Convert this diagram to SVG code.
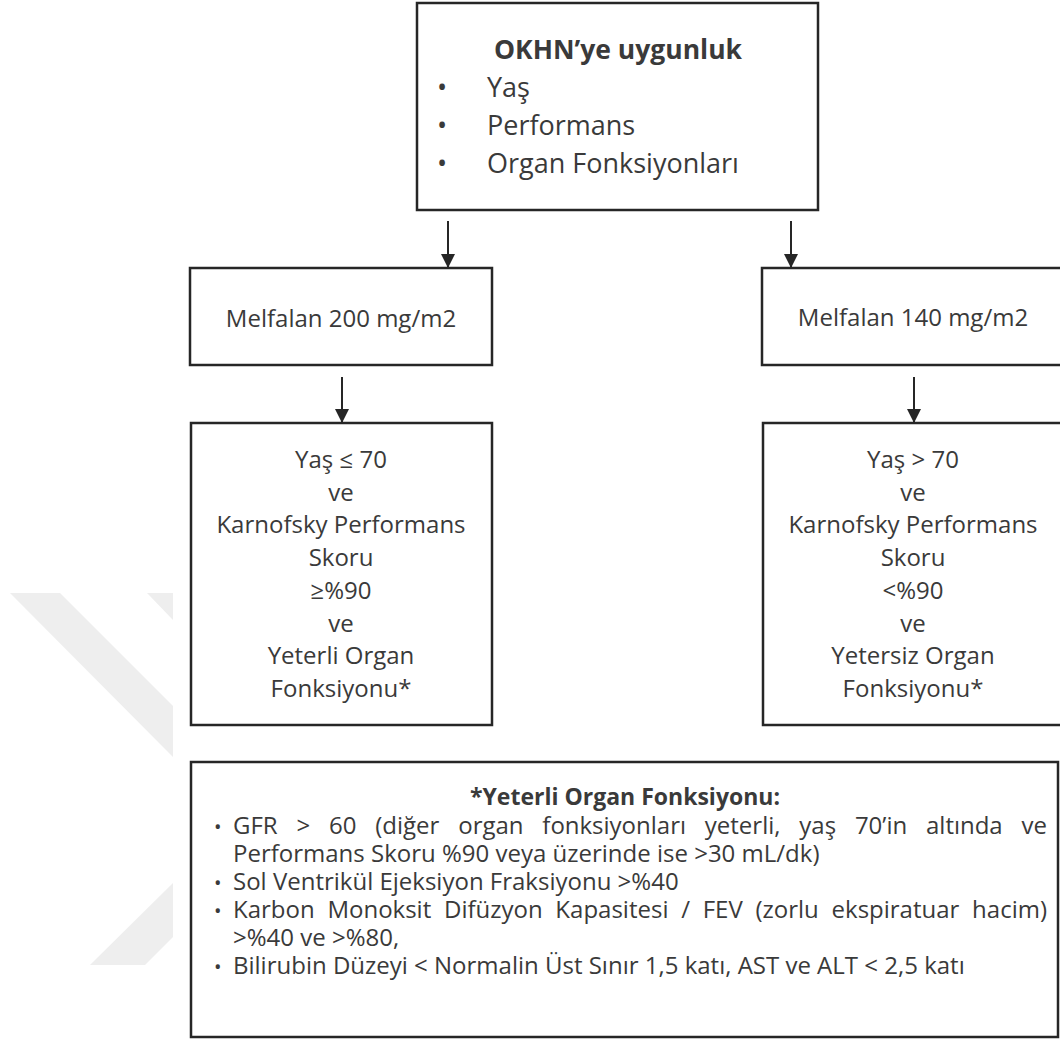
<svg xmlns="http://www.w3.org/2000/svg" width="1060" height="1043" viewBox="0 0 1060 1043">
<defs>
<style>
.box{fill:#ffffff;stroke:#262626;stroke-width:2.5}
.t{font-family:"Open Sans","Noto Sans","Liberation Sans",sans-serif;font-size:24px;fill:#3a3a3a}
.tt{font-family:"Open Sans","Noto Sans","Liberation Sans",sans-serif;font-size:27px;fill:#3a3a3a}
.c{text-anchor:middle}
.b{font-weight:bold}
.f{font-family:"Open Sans","Noto Sans","Liberation Sans",sans-serif;font-size:24px;fill:#3a3a3a}
.bul{font-family:"Open Sans","Noto Sans","Liberation Sans",sans-serif;font-size:20px;fill:#3a3a3a}
.wm{fill:#eeeeee}
.conn{stroke:#262626;stroke-width:2;fill:none}
</style>
<marker id="ah" viewBox="0 0 12 12" refX="12" refY="6" markerWidth="14" markerHeight="14" markerUnits="userSpaceOnUse" orient="auto">
<path d="M0,0 L12,6 L0,12 z" fill="#262626"/>
</marker>
</defs>
<rect width="1060" height="1043" fill="#ffffff"/>
<g id="watermark">
<polygon class="wm" points="10,593 60,593 173,706 173,757"/>
<polygon class="wm" points="147,593 173,593 173,620"/>
<polygon class="wm" points="173,883 90,965 145,965 173,937"/>
</g>
<g id="connectors">
<line class="conn" x1="448" y1="221" x2="448" y2="268" marker-end="url(#ah)"/>
<line class="conn" x1="791" y1="221" x2="791" y2="268" marker-end="url(#ah)"/>
<line class="conn" x1="342" y1="377" x2="342" y2="423" marker-end="url(#ah)"/>
<line class="conn" x1="914" y1="377" x2="914" y2="423" marker-end="url(#ah)"/>
</g>
<g id="node-okhn">
<rect class="box" x="417" y="3" width="401" height="207"/>
<text class="tt b c" x="618" y="59" style="font-size:26.5px">OKHN’ye uygunluk</text>
<text class="tt" x="437" y="97">•</text>
<text class="tt" x="487" y="97">Yaş</text>
<text class="tt" x="437" y="135">•</text>
<text class="tt" x="487" y="135">Performans</text>
<text class="tt" x="437" y="173">•</text>
<text class="tt" x="487" y="173">Organ Fonksiyonları</text>
</g>
<g id="node-mel200">
<rect class="box" x="190" y="268" width="302" height="97"/>
<text class="t c" x="341" y="327">Melfalan 200 mg/m2</text>
</g>
<g id="node-mel140">
<rect class="box" x="762" y="268" width="320" height="97"/>
<text class="t c" x="913" y="326">Melfalan 140 mg/m2</text>
</g>
<g id="node-left">
<rect class="box" x="191" y="423" width="301" height="302"/>
<text class="t c" x="341"><tspan x="341" y="468">Yaş ≤ 70</tspan><tspan x="341" y="500.7">ve</tspan><tspan x="341" y="533.4">Karnofsky Performans</tspan><tspan x="341" y="566">Skoru</tspan><tspan x="341" y="598.8">≥%90</tspan><tspan x="341" y="631.5">ve</tspan><tspan x="341" y="664">Yeterli Organ</tspan><tspan x="341" y="697">Fonksiyonu*</tspan></text>
</g>
<g id="node-right">
<rect class="box" x="763" y="423" width="320" height="302"/>
<text class="t c" x="913"><tspan x="913" y="468">Yaş &gt; 70</tspan><tspan x="913" y="500.7">ve</tspan><tspan x="913" y="533.4">Karnofsky Performans</tspan><tspan x="913" y="566">Skoru</tspan><tspan x="913" y="598.8">&lt;%90</tspan><tspan x="913" y="631.5">ve</tspan><tspan x="913" y="664">Yetersiz Organ</tspan><tspan x="913" y="697">Fonksiyonu*</tspan></text>
</g>
<g id="node-footnote">
<rect class="box" x="191" y="762" width="867" height="275"/>
<text class="f b c" x="625" y="805" style="font-size:23px">*Yeterli Organ Fonksiyonu:</text>
<text class="bul" x="214" y="834">•</text>
<text class="f" x="233" y="834" style="word-spacing:12.6px" textLength="814" lengthAdjust="spacing">GFR &gt; 60 (diğer organ fonksiyonları yeterli, yaş 70’in altında ve</text>
<text class="f" x="233" y="862">Performans Skoru %90 veya üzerinde ise &gt;30 mL/dk)</text>
<text class="bul" x="214" y="890">•</text>
<text class="f" x="233" y="890">Sol Ventrikül Ejeksiyon Fraksiyonu &gt;%40</text>
<text class="bul" x="214" y="918">•</text>
<text class="f" x="233" y="918" style="word-spacing:6.5px" textLength="814" lengthAdjust="spacing">Karbon Monoksit Difüzyon Kapasitesi / FEV (zorlu ekspiratuar hacim)</text>
<text class="f" x="233" y="946">&gt;%40 ve &gt;%80,</text>
<text class="bul" x="214" y="974">•</text>
<text class="f" x="233" y="974">Bilirubin Düzeyi &lt; Normalin Üst Sınır 1,5 katı, AST ve ALT &lt; 2,5 katı</text>
</g>
</svg>
